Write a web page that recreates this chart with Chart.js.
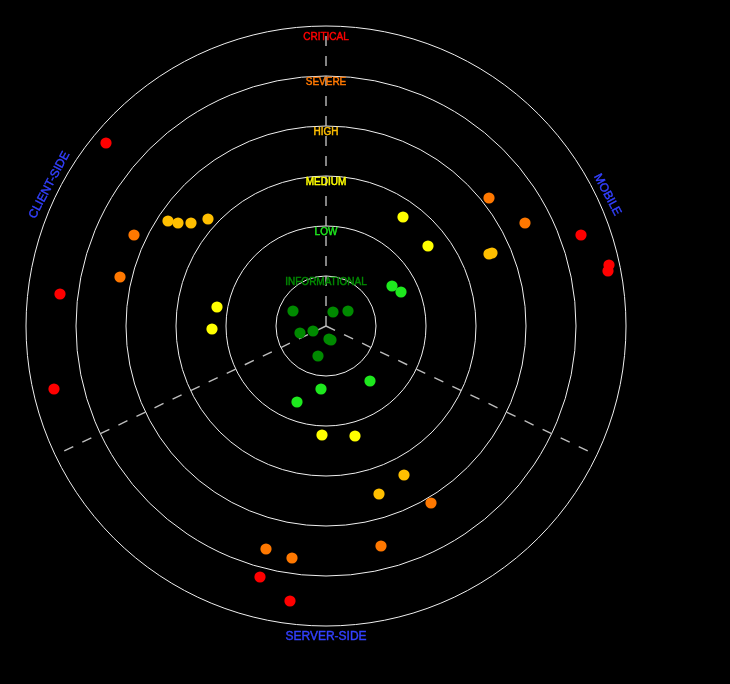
<!DOCTYPE html>
<html>
<head>
<meta charset="utf-8">
<script src="https://cdn.jsdelivr.net/npm/chart.js@4/dist/chart.umd.min.js"></script>
<style>
  html, body { margin: 0; padding: 0; background: #000; }
  #wrap { width: 730px; height: 684px; }
  canvas { display: block; }
</style>
</head>
<body>
<div id="wrap"><canvas id="c" width="730" height="684"></canvas></div>
<script>
// ---- Data (ring units: 1 ring = 1 unit, center = 0,0) ----
const severityLevels = ['INFORMATIONAL', 'LOW', 'MEDIUM', 'HIGH', 'SEVERE', 'CRITICAL'];
const ringValues = [1, 2, 3, 4, 5, 6];
const sectorLabels = ['MOBILE', 'CLIENT-SIDE', 'SERVER-SIDE'];

const criticalX = [-4.40, -5.32, -5.44, 5.10, 5.66, 5.64, -1.32, -0.72];
const criticalY = [ 3.66,  0.64, -1.26, 1.82, 1.22, 1.10, -5.02, -5.50];

const severeX = [-3.84, -4.12, 3.26, 3.98, -1.20, -0.68, 1.10, 2.10];
const severeY = [ 1.82,  0.98, 2.56, 2.06, -4.46, -4.64, -4.40, -3.54];

const highX = [-3.16, -2.96, -2.70, -2.36, 3.26, 3.32, 1.06, 1.56];
const highY = [ 2.10,  2.06,  2.06,  2.14, 1.44, 1.46, -3.36, -2.98];

const mediumX = [1.54, 2.04, -2.18, -2.28, -0.08, 0.58];
const mediumY = [2.18, 1.60,  0.38, -0.06, -2.18, -2.20];

const lowX = [1.32, 1.50, -0.10, -0.58, 0.88];
const lowY = [0.80, 0.68, -1.26, -1.52, -1.10];

const infoX = [-0.66, 0.14, 0.44, -0.52, -0.26, 0.06, 0.10, -0.16];
const infoY = [ 0.30, 0.28, 0.30, -0.14, -0.10, -0.26, -0.28, -0.60];

const markerX = [6.68];
const markerY = [5.88];

// ---- Styles ----
const severityColors = {
  INFORMATIONAL: '#008a00',
  LOW: '#1ee81e',
  MEDIUM: '#ffff00',
  HIGH: '#ffbf00',
  SEVERE: '#ff7800',
  CRITICAL: '#ff0000'
};
const sectorColor = '#3340ff';

function pts(xs, ys) { return xs.map((x, i) => ({ x: x, y: ys[i] })); }
function ds(label, xs, ys) {
  return {
    label: label,
    data: pts(xs, ys),
    backgroundColor: severityColors[label],
    borderColor: severityColors[label],
    borderWidth: 0,
    pointRadius: 5.6,
    pointHoverRadius: 5.6,
    clip: false
  };
}

function drawText(ctx, txt, x, y) {
  ctx.fillText(txt, x, y);
  ctx.strokeText(txt, x, y);
}

const radarPlugin = {
  id: 'radarBackground',
  beforeDatasetsDraw(chart) {
    const ctx = chart.ctx;
    const xs = chart.scales.x, ys = chart.scales.y;
    const cx = xs.getPixelForValue(0), cy = ys.getPixelForValue(0);
    const unit = xs.getPixelForValue(1) - cx;
    ctx.save();
    // rings
    ctx.strokeStyle = 'rgba(240,240,240,1)';
    ctx.lineWidth = 1;
    ringValues.forEach(r => {
      ctx.beginPath();
      ctx.arc(cx, cy, r * unit, 0, Math.PI * 2);
      ctx.stroke();
    });
    // dashed sector lines
    const lineR = 5.8 * unit;
    ctx.strokeStyle = '#bdbdbd';
    ctx.lineWidth = 1.4;
    ctx.setLineDash([10, 10]);
    ctx.beginPath();
    ctx.moveTo(cx, cy - lineR);
    ctx.lineTo(cx, cy);
    ctx.stroke();
    [-25.5, 205.5].forEach(deg => {
      const a = deg * Math.PI / 180;
      ctx.beginPath();
      ctx.moveTo(cx, cy);
      ctx.lineTo(cx + lineR * Math.cos(a), cy - lineR * Math.sin(a));
      ctx.stroke();
    });
    ctx.setLineDash([]);
    // ring labels
    ctx.font = '10px "Liberation Sans", Arial, sans-serif';
    ctx.textAlign = 'center';
    ctx.textBaseline = 'middle';
    ctx.lineWidth = 0.45;
    const labelOffsets = [0.12, 0.12, 0.12, 0.12, 0.12, 0.22];
    severityLevels.forEach((lvl, i) => {
      ctx.fillStyle = severityColors[lvl];
      ctx.strokeStyle = severityColors[lvl];
      drawText(ctx, lvl, cx, ys.getPixelForValue(ringValues[i] - labelOffsets[i]));
    });
    // sector labels
    ctx.font = '12px "Liberation Sans", Arial, sans-serif';
    ctx.fillStyle = sectorColor;
    ctx.strokeStyle = sectorColor;
    ctx.lineWidth = 0.4;
    const sectorAngles = [25, 153, 270];
    const sectorRot = [62, -62, 0];
    const sectorR = 6.21 * unit;
    sectorLabels.forEach((txt, i) => {
      const a = sectorAngles[i] * Math.PI / 180;
      const px = cx + sectorR * Math.cos(a);
      const py = cy - sectorR * Math.sin(a);
      ctx.save();
      ctx.translate(px, py);
      ctx.rotate(sectorRot[i] * Math.PI / 180);
      drawText(ctx, txt, 0, 0);
      ctx.restore();
    });
    ctx.restore();
  }
};

new Chart(document.getElementById('c'), {
  type: 'scatter',
  data: {
    datasets: [
      ds('INFORMATIONAL', infoX, infoY),
      ds('LOW', lowX, lowY),
      ds('MEDIUM', mediumX, mediumY),
      ds('HIGH', highX, highY),
      ds('SEVERE', severeX, severeY),
      ds('CRITICAL', criticalX, criticalY),
      {
        label: 'marker',
        data: pts(markerX, markerY),
        backgroundColor: sectorColor,
        borderWidth: 0,
        pointStyle: 'rect',
        pointRadius: 1.2,
        clip: false
      }
    ]
  },
  options: {
    responsive: false,
    animation: false,
    events: [],
    layout: { padding: { left: 26, right: 104, top: 26, bottom: 58 } },
    scales: {
      x: { type: 'linear', min: -6, max: 6, display: false },
      y: { type: 'linear', min: -6, max: 6, display: false }
    },
    plugins: { legend: { display: false }, tooltip: { enabled: false } }
  },
  plugins: [radarPlugin]
});
</script>
</body>
</html>
